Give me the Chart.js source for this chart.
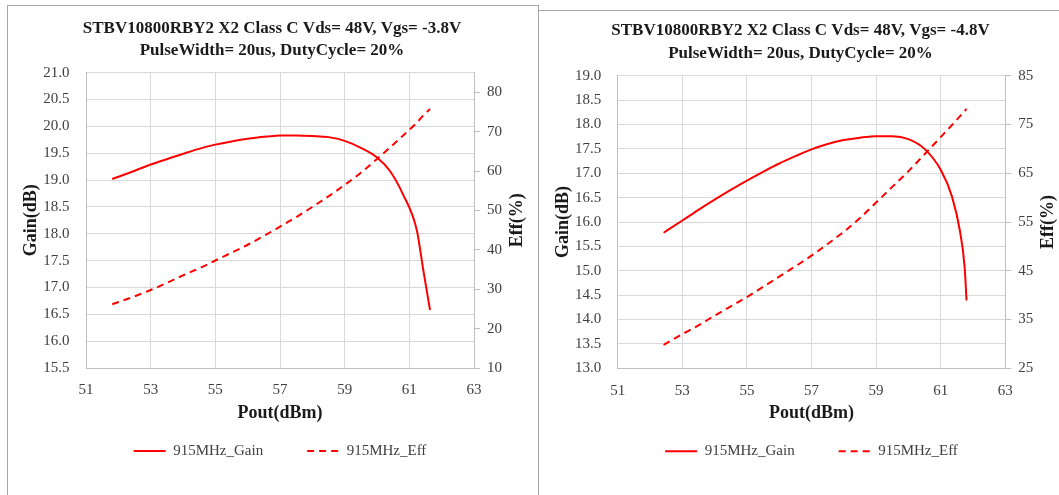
<!DOCTYPE html>
<html>
<head>
<meta charset="utf-8">
<script src="https://cdn.jsdelivr.net/npm/chart.js@4.4.1/dist/chart.umd.min.js"></script>
<style>
html,body{margin:0;padding:0;background:#fff;width:1059px;height:495px;overflow:hidden;position:relative}
.box{position:absolute;border:1px solid #a6a6a6;box-sizing:border-box}
#b1{left:7px;top:5px;width:532px;height:600px}
#b2{left:538px;top:10px;width:600px;height:600px}
canvas{position:absolute;left:0;top:0}
</style>
</head>
<body>
<div class="box" id="b1"></div>
<div class="box" id="b2"></div>
<canvas id="c1" width="1059" height="530"></canvas>
<canvas id="c2" width="1059" height="530"></canvas>
<script>
// ---- data: chart A (Vgs = -3.8V) ----
const titleA = ['STBV10800RBY2 X2 Class C Vds= 48V, Vgs= -3.8V', 'PulseWidth= 20us, DutyCycle= 20%'];
const poutA = [51.81, 52.4, 53.0, 53.6, 54.1, 54.6, 55.0, 55.5, 56.0, 56.6, 57.0, 57.5, 58.0, 58.5, 59.0, 59.5, 60.0, 60.4, 60.8, 61.23, 61.43, 61.64];
const gainA = [19.02, 19.15, 19.29, 19.41, 19.51, 19.60, 19.66, 19.72, 19.77, 19.81, 19.83, 19.83, 19.82, 19.80, 19.73, 19.60, 19.42, 19.17, 18.74, 18.07, 17.33, 16.58];
const effA  = [26.2, 27.9, 29.8, 32.0, 33.9, 35.7, 37.3, 39.3, 41.3, 44.0, 45.9, 48.3, 50.9, 53.6, 56.5, 59.6, 63.1, 66.0, 69.0, 72.3, 74.1, 75.8];
const gainTicksA = [15.5, 16.0, 16.5, 17.0, 17.5, 18.0, 18.5, 19.0, 19.5, 20.0, 20.5, 21.0];
const effTicksA = [10, 20, 30, 40, 50, 60, 70, 80];

// ---- data: chart B (Vgs = -4.8V) ----
const titleB = ['STBV10800RBY2 X2 Class C Vds= 48V, Vgs= -4.8V', 'PulseWidth= 20us, DutyCycle= 20%'];
const poutB = [52.42, 53.0, 53.5, 54.0, 54.5, 55.0, 55.5, 56.0, 56.5, 57.0, 57.5, 58.0, 58.5, 59.0, 59.5, 60.0, 60.5, 61.0, 61.35, 61.6, 61.74, 61.8];
const gainB = [15.78, 16.03, 16.25, 16.46, 16.66, 16.85, 17.03, 17.20, 17.35, 17.49, 17.60, 17.68, 17.73, 17.76, 17.76, 17.70, 17.50, 17.07, 16.52, 15.80, 15.08, 14.39];
const effB  = [29.8, 32.0, 33.8, 35.8, 37.7, 39.6, 41.7, 43.8, 45.9, 48.1, 50.5, 53.0, 55.8, 59.0, 62.2, 65.4, 68.9, 72.4, 74.9, 76.7, 77.7, 78.2];
const gainTicksB = [13.0, 13.5, 14.0, 14.5, 15.0, 15.5, 16.0, 16.5, 17.0, 17.5, 18.0, 18.5, 19.0];
const effTicksB = [25, 35, 45, 55, 65, 75, 85];

// ---- shared ----
const xTicks = [51, 53, 55, 57, 59, 61, 63];
const seriesNames = ['915MHz_Gain', '915MHz_Eff'];
const xTitle = 'Pout(dBm)';
const yTitle = 'Gain(dB)';
const y1Title = 'Eff(%)';

const FAM = '"Liberation Serif", "Times New Roman", serif';
const TICK_COLOR = '#404040';
const TITLE_COLOR = '#1a1a1a';
const GRID = '#d9d9d9';
const AXIS = '#bfbfbf';
const RED = '#ff0000';

const sideTitle = {
  id: 'sideTitle',
  afterDraw(chart, args, opts) {
    const ctx = chart.ctx, a = chart.chartArea;
    ctx.save();
    ctx.translate(a.right + opts.offset, (a.top + a.bottom) / 2);
    ctx.rotate(-Math.PI / 2);
    ctx.font = 'bold 18px ' + FAM;
    ctx.fillStyle = TITLE_COLOR;
    ctx.textAlign = 'center';
    ctx.textBaseline = 'middle';
    ctx.fillText(opts.text, 0, 0);
    ctx.restore();
  }
};

function setTicks(list) {
  return s => { s.ticks = list.map(v => ({ value: v })); };
}

function legendLabels(chart) {
  return Chart.defaults.plugins.legend.labels.generateLabels(chart).map(it => {
    const ds = chart.data.datasets[it.datasetIndex];
    it.lineDash = ds.borderDash || [];
    it.lineWidth = ds.borderWidth;
    it.strokeStyle = ds.borderColor;
    it.fillStyle = ds.borderColor;
    return it;
  });
}

function build(id, g) {
  const pts = (xs, ys) => xs.map((x, i) => ({ x: x, y: ys[i] }));
  return new Chart(document.getElementById(id), {
    type: 'line',
    data: {
      datasets: [
        { label: seriesNames[0], data: pts(g.pout, g.gain), yAxisID: 'y',
          borderColor: RED, backgroundColor: RED, borderWidth: 2, pointRadius: 0,
          cubicInterpolationMode: 'monotone' },
        { label: seriesNames[1], data: pts(g.pout, g.eff), yAxisID: 'y1',
          borderColor: RED, backgroundColor: RED, borderWidth: 2, pointRadius: 0,
          borderDash: [7, 5], cubicInterpolationMode: 'monotone' }
      ]
    },
    options: {
      responsive: false,
      animation: false,
      events: [],
      layout: { padding: { left: g.padL, right: g.padR, top: 0, bottom: g.padB } },
      scales: {
        x: {
          type: 'linear', min: 51, max: 63, bounds: 'data',
          afterBuildTicks: setTicks(xTicks),
          afterFit: s => { s.height = g.xH; },
          grid: { color: GRID, drawTicks: false, lineWidth: 1 },
          border: { display: true, color: AXIS, width: 1 },
          ticks: { color: TICK_COLOR, font: { family: FAM, size: 15 }, padding: 13.5,
                   autoSkip: false, maxRotation: 0, callback: v => String(v) },
          title: { display: true, text: xTitle, color: TITLE_COLOR,
                   font: { family: FAM, size: 18, weight: 'bold' },
                   padding: { top: 0, bottom: g.xTitlePad } }
        },
        y: {
          type: 'linear', position: 'left', min: g.gMin, max: g.gMax, bounds: 'data',
          afterBuildTicks: setTicks(g.gTicks),
          afterFit: s => { s.width = g.yW; },
          grid: { color: GRID, drawTicks: false, lineWidth: 1 },
          border: { display: true, color: AXIS, width: 1 },
          ticks: { color: TICK_COLOR, font: { family: FAM, size: 15 }, padding: 16.5,
                   autoSkip: false, callback: v => Number(v).toFixed(1) },
          title: { display: true, text: yTitle, color: TITLE_COLOR,
                   font: { family: FAM, size: 18, weight: 'bold' },
                   padding: { top: g.yTitlePad, bottom: 0 } }
        },
        y1: {
          type: 'linear', position: 'right', min: g.eMin, max: g.eMax, bounds: 'data',
          afterBuildTicks: setTicks(g.eTicks),
          afterFit: s => { s.width = g.y1W; },
          grid: { drawOnChartArea: false, drawTicks: true, tickLength: 6, color: AXIS, lineWidth: 1 },
          border: { display: true, color: AXIS, width: 1 },
          ticks: { color: TICK_COLOR, font: { family: FAM, size: 15 }, padding: 7,
                   autoSkip: false, callback: v => String(v) }
        }
      },
      plugins: {
        title: { display: true, text: g.title, color: TITLE_COLOR, fullSize: true,
                 font: { family: FAM, size: 17, weight: 'bold', lineHeight: 22.6 / 17 },
                 padding: { top: g.tPadTop, bottom: g.tPadBot } },
        legend: {
          position: 'bottom', align: 'center', fullSize: false,
          labels: { usePointStyle: true, pointStyle: 'line', pointStyleWidth: 32,
                    padding: 44, color: TICK_COLOR, font: { family: FAM, size: 15 },
                    generateLabels: legendLabels }
        },
        tooltip: { enabled: false },
        sideTitle: { text: y1Title, offset: 43 }
      }
    },
    plugins: [sideTitle]
  });
}

build('c1', {
  title: titleA, pout: poutA, gain: gainA, eff: effA,
  gMin: 15.5, gMax: 21.0, gTicks: gainTicksA, eMin: 10, eMax: 85, eTicks: effTicksA,
  padL: 40, padR: 555, padB: 61.5,
  yW: 46, y1W: 30, xH: 31.5,
  yTitlePad: -19.1, xTitlePad: -24.8,
  tPadTop: 17.2, tPadBot: 10.3
});

build('c2', {
  title: titleB, pout: poutB, gain: gainB, eff: effB,
  gMin: 13.0, gMax: 19.0, gTicks: gainTicksB, eMin: 25, eMax: 85, eTicks: effTicksB,
  padL: 566, padR: 24, padB: 61.2,
  yW: 51.7, y1W: 29.7, xH: 31.5,
  yTitlePad: -13.5, xTitlePad: -24.6,
  tPadTop: 19.4, tPadBot: 11.1
});
</script>
</body>
</html>
